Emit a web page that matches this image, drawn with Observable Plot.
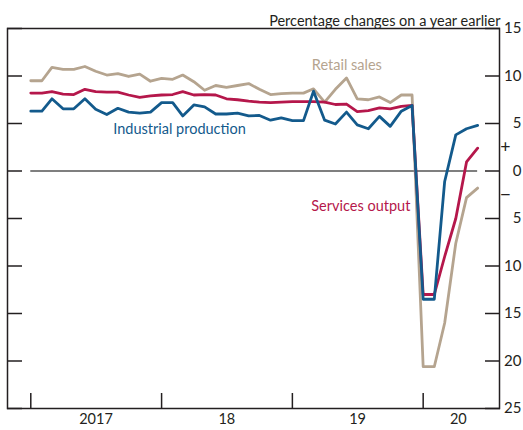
<!DOCTYPE html>
<html><head><meta charset="utf-8">
<script src="https://cdn.jsdelivr.net/npm/d3@7"></script>
<script src="https://cdn.jsdelivr.net/npm/@observablehq/plot@0.6"></script>
<style>body{margin:0;background:#fff} svg{display:block}</style>
</head><body><div id="chart"></div>
<script>
// Monthly observations, January 2017 onwards
const firstMonth = "2017-01-01";
const retailSales = [9.5, 9.5, 10.9, 10.7, 10.7, 11.0, 10.5, 10.1, 10.25, 9.95, 10.2, 9.45,
  9.75, 9.65, 10.1, 9.4, 8.5, 9.0, 8.8, 9.0, 9.2, 8.6, 8.05, 8.15,
  8.2, 8.2, 8.65, 7.25, 8.6, 9.8, 7.6, 7.5, 7.8, 7.2, 8.0, 8.0,
  -20.6, -20.6, -16.0, -7.6, -2.8, -1.8];
const servicesOutput = [8.2, 8.2, 8.35, 8.1, 8.05, 8.6, 8.35, 8.3, 8.3, 8.0, 7.75, 7.9,
  8.0, 8.05, 8.35, 8.0, 8.05, 8.0, 7.6, 7.5, 7.35, 7.25, 7.2, 7.25,
  7.3, 7.3, 7.3, 7.25, 7.0, 7.05, 6.25, 6.35, 6.65, 6.55, 6.8, 6.9,
  -13.0, -13.0, -9.0, -5.0, 0.95, 2.4];
const industrialProduction = [6.3, 6.3, 7.6, 6.55, 6.55, 7.6, 6.5, 5.95, 6.6, 6.2, 6.1, 6.2,
  7.2, 7.2, 5.8, 6.95, 6.75, 6.0, 6.0, 6.1, 5.8, 5.85, 5.35, 5.6,
  5.3, 5.3, 8.4, 5.35, 4.95, 6.2, 4.85, 4.45, 5.75, 4.7, 6.3, 6.9,
  -13.5, -13.5, -1.1, 3.8, 4.45, 4.8];
const seriesNames = ["Retail sales", "Services output", "Industrial production"];
const seriesColors = ["#b5a48f", "#b5174b", "#135a8c"];
const yTickValues = [15, 10, 5, 0, -5, -10, -15, -20, -25];
const signLabels = [{sign: "+", value: 2.5}, {sign: "\u2212", value: -2.5}];
const yearTicks = ["2017-01-01", "2018-01-01", "2019-01-01", "2020-01-01"];
const yearLabels = ["2017", "18", "19", "20"];
const yearLabelDates = ["2017-07-02", "2018-07-02", "2019-07-02", "2020-04-08"];
const unitsLabel = "Percentage changes on a year earlier";

const start = new Date(firstMonth);
const months = retailSales.map((_, i) => d3.utcMonth.offset(start, i));
const seriesValues = [retailSales, servicesOutput, industrialProduction];
const rows = seriesValues.flatMap((vals, s) =>
  vals.map((v, i) => ({series: seriesNames[s], date: months[i], value: v})));

const seriesLabels = [
  {series: "Retail sales", date: new Date("2019-06-02"), value: 11.1},
  {series: "Industrial production", date: new Date("2018-02-20"), value: 4.37},
  {series: "Services output", date: new Date("2019-07-11"), value: -3.74}
];

const ink = "#231f20";
const chart = Plot.plot({
  width: 523, height: 430,
  marginLeft: 7, marginRight: 24, marginTop: 28, marginBottom: 22,
  style: {fontFamily: "Lato, 'Noto Sans', sans-serif", fontSize: "14.5px", color: ink, background: "#fff"},
  x: {type: "utc", domain: [new Date("2016-10-28"), new Date("2020-08-01")], axis: null},
  y: {domain: [-25, 15], axis: null},
  color: {domain: seriesNames, range: seriesColors},
  marks: [
    Plot.ruleY([0], {x1: months[0], x2: months[months.length - 1], stroke: "#555", strokeWidth: 1.5}),
    Plot.lineY(rows, {x: "date", y: "value", z: "series", stroke: "series", strokeWidth: 2.8}),
    Plot.axisY({ticks: yTickValues, anchor: "left", tickSize: -15, tickFormat: () => "", stroke: ink, strokeWidth: 1.5, label: null}),
    Plot.axisY({ticks: yTickValues, anchor: "right", tickSize: -15, tickFormat: () => "", stroke: ink, strokeWidth: 1.5, label: null}),
    Plot.axisX({ticks: yearTicks.map(d => new Date(d)), anchor: "bottom", tickSize: -15, tickFormat: () => "", stroke: ink, strokeWidth: 1.5, label: null}),
    Plot.frame({stroke: ink, strokeWidth: 1.5}),
    Plot.text(yTickValues, {y: d => d, text: d => String(Math.abs(d)), frameAnchor: "right", dx: 22, textAnchor: "end", fill: ink, fontSize: 15}),
    Plot.text(signLabels, {y: "value", text: "sign", frameAnchor: "right", dx: 6, textAnchor: "middle", fill: ink, fontSize: 18, fontFamily: "'Noto Sans', sans-serif"}),
    Plot.text(yearLabels, {x: (d, i) => new Date(yearLabelDates[i]), text: d => d, frameAnchor: "bottom", dy: 15, fill: ink}),
    Plot.text([unitsLabel], {text: d => d, frameAnchor: "top-right", dy: -13, dx: 1, textAnchor: "end", fill: ink}),
    Plot.text(seriesLabels, {x: "date", y: "value", text: "series", fill: "series", fontSize: 14.5})
  ]
});
document.getElementById("chart").append(chart);
</script>
</body></html>
